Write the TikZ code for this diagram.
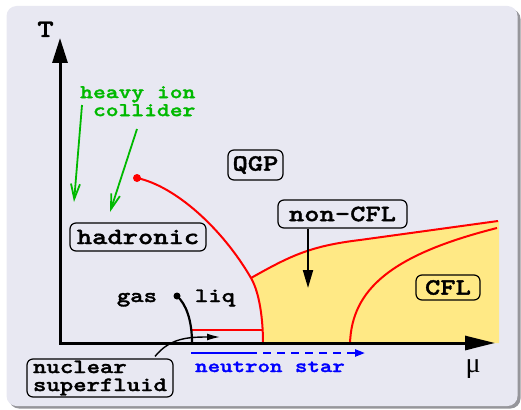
\documentclass[tikz,border=0pt]{standalone}
\usepackage{fontspec}
\usetikzlibrary{arrows.meta}
\newfontfamily\cour[FakeStretch=1.25,FakeBold=1.6]{lmmonolt10-bold.otf}
\newfontfamily\greekserif{Liberation Serif}
\definecolor{panel}{RGB}{232,232,242}
\definecolor{panelshadow}{RGB}{150,150,155}
\definecolor{cflyellow}{RGB}{255,233,133}
\definecolor{collgreen}{RGB}{0,185,0}
\tikzset{
  phase/.style={draw=red, line width=2pt},
  lbox/.style={draw=black, line width=1.2pt, rounded corners=6pt, inner sep=0pt,
    font=\cour\fontsize{23.3}{24}\selectfont},
  smalltext/.style={font=\cour\fontsize{20.4}{18}\selectfont},
  greentext/.style={font=\cour\fontsize{19.5}{18}\selectfont, text=collgreen},
  bluetext/.style={font=\cour\fontsize{19}{18}\selectfont, text=blue},
  garrow/.style={draw=collgreen, line width=1.8pt, -{Straight Barb[length=15pt,width=9pt]}},
  pointer/.style={draw=black, line width=2pt, -{Triangle[length=18pt,width=10pt]}},
}
\begin{document}
\begin{tikzpicture}[x=1pt,y=-1pt]
\useasboundingbox (0,0) rectangle (521,409);
% panel with a thin drop shadow
\fill[panelshadow, rounded corners=10pt] (9,9) rectangle (520.5,408.5);
\fill[panel, rounded corners=10pt] (6.5,6) rectangle (517.5,406);

% colour-superconducting region
\fill[cflyellow] (251,278) .. controls (290,256) and (310,246) .. (360,240) -- (499,221)
  -- (499,343) -- (263,343) .. controls (263,320) and (259.7,293) .. (251,278) -- cycle;

% critical end point and phase boundaries
\node[circle, fill=red, inner sep=0pt, minimum size=8pt] (cep) at (137,178) {};
\draw[phase] (cep.center) .. controls (175,186) and (222,228) .. (251,278)
  .. controls (259.7,293) and (263,320) .. (263,343);
\draw[phase] (251,278) .. controls (290,256) and (310,246) .. (360,240) -- (498,221);
\draw[phase] (350,343) .. controls (352,290) and (390,255) .. (497,228);
\draw[phase, line width=1.6pt] (192,330) -- (263,330);

% axes
\coordinate (O) at (60,343);
\coordinate (Ttip) at (60,38);
\coordinate (mutip) at (495,343);
\draw[line width=3pt, {Triangle[length=25pt,width=15pt]}-{Triangle[length=30pt,width=14pt]}]
  (Ttip) -- (O) -- (mutip);
\node[font=\cour\fontsize{25}{25}\selectfont, anchor=base] (Tlab) at (45.5,37) {T};
\node[font=\greekserif\fontsize{28}{28}\selectfont, anchor=base] (mulab) at (473,372) {μ};

% phase labels
\node[lbox, minimum width=136pt, minimum height=28pt] (hadr) at (138,237) {hadronic};
\node[lbox, minimum width=55pt, minimum height=30pt] (qgp) at (255.5,165) {QGP};
\node[lbox, minimum width=129pt, minimum height=28pt] (ncfl) at (342.5,214) {non-CFL};
\node[lbox, minimum width=64pt, minimum height=25pt] (cfl) at (448,287.5) {CFL};
\node[lbox, smalltext, minimum width=146pt, minimum height=38pt, align=left] (nuc) at (100,378) {nuclear\\superfluid};

\coordinate (ncfltip) at (308,288);
\draw[pointer] (ncfltip |- ncfl.south) -- (ncfltip);

% liquid-gas transition
\node[smalltext, anchor=base] (gas) at (137,302) {gas};
\node[smalltext, anchor=base] (liq) at (215,302) {liq};
\node[circle, fill=black, inner sep=0pt, minimum size=7pt] (gl) at (177,296) {};
\coordinate (glend) at (192,343);
\draw[line width=2.2pt] (gl.center) .. controls (186,304) and (192,320) .. (glend);

% nuclear superfluid pointer
\coordinate (nuctip) at (220,337);
\draw[line width=1.4pt, -{Latex[length=13pt,width=7pt]}]
  ([xshift=55pt,yshift=2pt]nuc.north) .. controls (170,338) and (188,337) .. (nuctip);

% neutron star trajectory
\coordinate (nsA) at (191,353);
\coordinate (nsB) at (257,353);
\coordinate (nsC) at (365,353);
\draw[blue, line width=2.2pt] (nsA) -- (nsB);
\draw[blue, line width=2.2pt, dash pattern=on 8pt off 6pt, dash phase=8pt,
  -{Triangle[length=10pt,width=7pt]}] (nsB) -- (nsC);
\node[bluetext, anchor=base] (nstext) at (270,372) {neutron star};

% heavy ion collisions
\node[greentext, align=left, anchor=north west, inner sep=0pt] (hic) at (80,86)
  {heavy ion\\\hphantom{x}collider};
\coordinate (g1s) at (82,105);
\coordinate (g1e) at (74,202);
\coordinate (g2s) at (137,129);
\coordinate (g2e) at (110,212);
\draw[garrow] (g1s) -- (g1e);
\draw[garrow] (g2s) -- (g2e);
\end{tikzpicture}
\end{document}
